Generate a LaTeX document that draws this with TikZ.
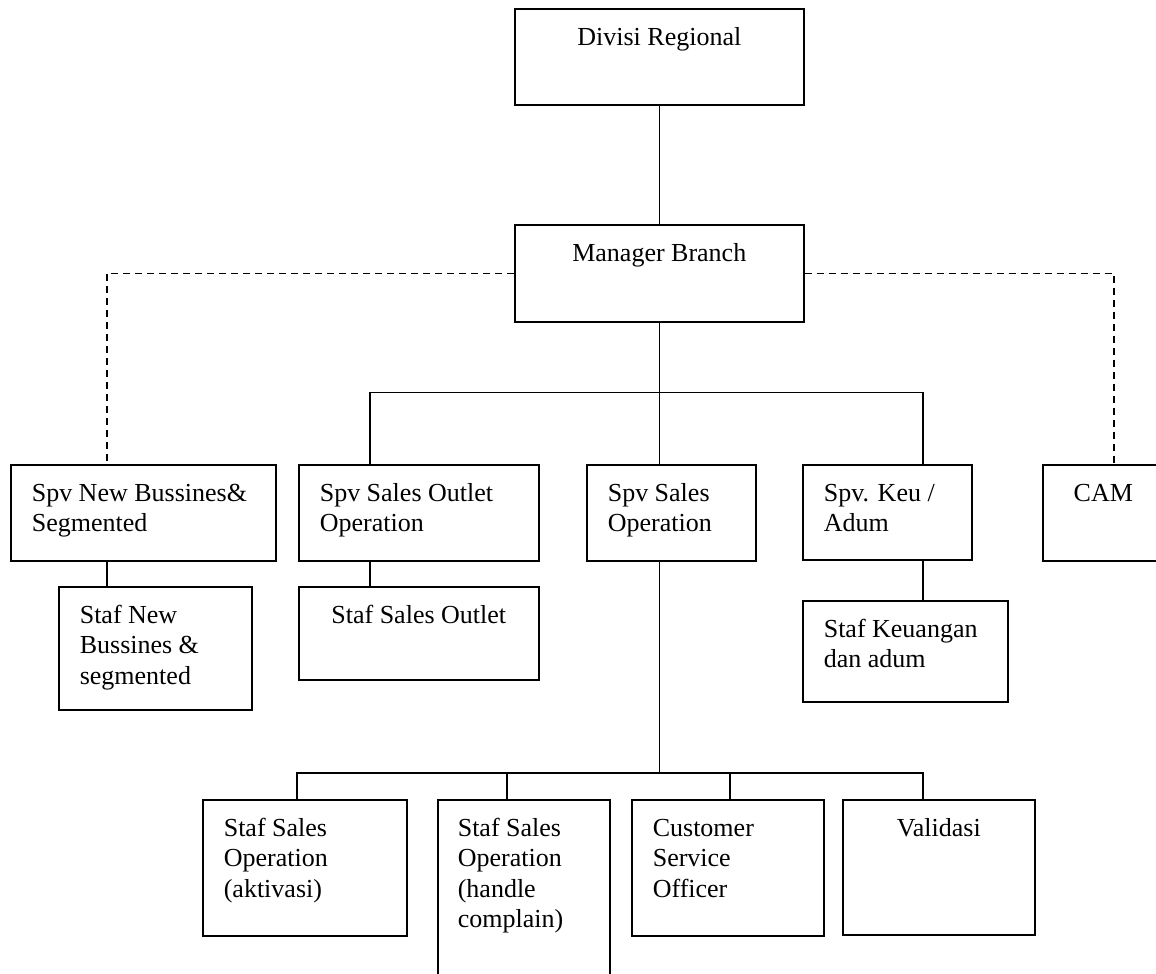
\documentclass[tikz,border=0pt]{standalone}
\usepackage{fontspec}
\setmainfont{Liberation Serif}
\newcommand{\lefttext}[4]{\parbox[t][#2pt][t]{#1pt}{\vspace*{15pt}\leftskip=#3pt\relax\strut #4}}
\newcommand{\midtext}[3]{\parbox[t][#2pt][t]{#1pt}{\vspace*{15pt}\centering\strut #3}}

\begin{document}
\begin{tikzpicture}[x=1pt, y=-1pt, font=\fontsize{26}{30.5}\selectfont,
  orgbox/.style={draw, line width=1.6pt, inner sep=0pt, anchor=north west},
  link/.style={line width=1.5pt},
  dashlink/.style={line width=1.5pt, dash pattern=on 7pt off 5pt}]

\useasboundingbox (0,0) rectangle (1156,974);
\clip (0,0) rectangle (1156,974);

\node[orgbox] (DR) at (514,8) {\midtext{289}{96}{Divisi Regional}};
\node[orgbox] (MB) at (514,224) {\midtext{289}{97}{Manager Branch}};

\node[orgbox] (NB) at (10,464) {\lefttext{265}{96}{21}{Spv New Bussines\&\\Segmented}};
\node[orgbox] (SO) at (298,464) {\lefttext{240}{96}{21}{Spv Sales Outlet\\Operation}};
\node[orgbox] (SP) at (586,464) {\lefttext{169}{96}{21}{Spv Sales\\Operation}};
\node[orgbox] (KA) at (802,464) {\lefttext{169}{95}{21}{Spv. Keu /\\Adum}};
\node[orgbox] (CAM) at (1042,464) {\midtext{121}{96}{CAM}};

\node[orgbox] (SNB) at (58,586) {\lefttext{193}{123}{21}{Staf New\\Bussines \&\\segmented}};
\node[orgbox] (SSO) at (298,586) {\midtext{240}{93}{Staf Sales Outlet}};
\node[orgbox] (SKA) at (802,600) {\lefttext{205}{101}{21}{Staf Keuangan\\dan adum}};

\node[orgbox] (SA) at (202,799) {\lefttext{204}{136}{21}{Staf Sales\\Operation\\(aktivasi)}};
\node[orgbox] (SH) at (437,799) {\lefttext{172}{200}{20}{Staf Sales\\Operation\\(handle\\complain)}};
\node[orgbox] (CSO) at (631,799) {\lefttext{192}{136}{21}{Customer\\Service\\Officer}};
\node[orgbox] (VAL) at (842,799) {\midtext{192}{135}{Validasi}};

\coordinate (dNB) at ([xshift=97pt]NB.north west);
\coordinate (dCAM) at ([xshift=72pt]CAM.north west);
\coordinate (dSO) at ([xshift=72pt]SO.north west);
\coordinate (dKA) at ([xshift=121pt]KA.north west);
\coordinate (dSA) at ([xshift=95pt]SA.north west);
\coordinate (dSH) at ([xshift=70pt]SH.north west);
\coordinate (dCSO) at ([xshift=99pt]CSO.north west);
\coordinate (dVAL) at ([xshift=81pt]VAL.north west);
\path (MB.south) ++(0,70) coordinate (j1);
\path (SH.north -| MB.south) ++(0,-26) coordinate (j2);

\draw[link] (DR.south) -- (MB.north);
\draw[dashlink] (MB.west) -| (dNB);
\draw[dashlink] (MB.east) -| (dCAM);
\draw[link] (MB.south) -- (MB.south |- SP.north);
\draw[link] (dSO) |- (j1) -| (dKA);

\draw[link] ([xshift=97pt]NB.south west) -- ([xshift=49pt]SNB.north west);
\draw[link] ([xshift=72pt]SO.south west) -- ([xshift=72pt]SSO.north west);
\draw[link] ([xshift=121pt]KA.south west) -- ([xshift=121pt]SKA.north west);

\draw[link] (MB.south |- SP.south) -- (j2);
\draw[link] (dSA) |- (j2) -| (dVAL);
\draw[link] (dSH) -- (dSH |- j2);
\draw[link] (dCSO) -- (dCSO |- j2);

\end{tikzpicture}
\end{document}
